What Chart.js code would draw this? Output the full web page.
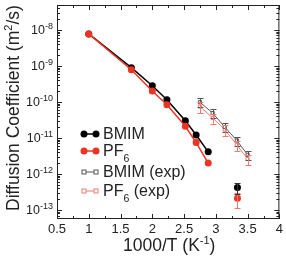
<!DOCTYPE html>
<html>
<head>
<meta charset="utf-8">
<script src="https://cdn.jsdelivr.net/npm/chart.js@4.4.1/dist/chart.umd.min.js"></script>
<style>
html, body { margin: 0; padding: 0; background: #fff; }
#wrap { width: 286px; height: 262px; }
</style>
</head>
<body>
<div id="wrap"><canvas id="chart"></canvas></div>
<script>
// simulation points, 1000/T
const simX = [1.0, 1.67, 2.0, 2.23, 2.52, 2.69, 2.88];
const bmimSim = [7.7e-9, 8.9e-10, 2.8e-10, 1.15e-10, 3.0e-11, 1.2e-11, 4.1e-12];
const pf6Sim = [7.7e-9, 7.8e-10, 2.0e-10, 8.3e-11, 2.1e-11, 7.4e-12, 2.0e-12];

// room temperature simulation (with error bars, not joined)
const roomX = [3.34];
const bmimRoom = [4.2e-13];
const pf6Room = [2.1e-13];
const bmimRoomErr = [0.35];
const pf6RoomErr = [0.45];

// experiment
const expX = [2.75, 2.95, 3.14, 3.33, 3.5];
const bmimExp = [9.8e-11, 4.9e-11, 2.0e-11, 8.5e-12, 3.4e-12];
const pf6Exp = [7.4e-11, 3.6e-11, 1.7e-11, 6.4e-12, 2.6e-12];
const bmimExpErr = [0.28, 0.28, 0.28, 0.28, 0.28];
const pf6ExpErr = [0.32, 0.32, 0.32, 0.32, 0.32];

const xTicks = [0.5, 1, 1.5, 2, 2.5, 3, 3.5, 4];
const yDecades = [-13, -12, -11, -10, -9, -8];

const FONT = '"Liberation Sans", Arial, Helvetica, sans-serif';
const BLACK = '#000000';
const RED = '#ee3322';
const EXP_BLACK = '#555555';
const EXP_RED = '#f07a70';

function pts(xs, ys) {
    return xs.map((x, i) => ({ x, y: ys[i] }));
}

const errorBars = {
    id: 'errorBars',
    afterDatasetsDraw(chart) {
        const ctx = chart.ctx;
        const ys = chart.scales.y;
        chart.data.datasets.forEach((ds, i) => {
            if (!ds.errors) return;
            const meta = chart.getDatasetMeta(i);
            ctx.save();
            ctx.strokeStyle = ds.errorColor;
            ctx.lineWidth = 1;
            meta.data.forEach((el, j) => {
                const v = ds.data[j].y;
                const e = ds.errors[j];
                const top = Math.round(ys.getPixelForValue(v * (1 + e))) + 0.5;
                const bot = Math.round(ys.getPixelForValue(v * (1 - e))) + 0.5;
                const px = Math.round(el.x) + 0.5;
                ctx.beginPath();
                ctx.moveTo(px, top);
                ctx.lineTo(px, bot);
                ctx.moveTo(px - 3, top);
                ctx.lineTo(px + 3, top);
                ctx.moveTo(px - 3, bot);
                ctx.lineTo(px + 3, bot);
                ctx.stroke();
            });
            ctx.restore();
        });
    },
};

// text with a raised or lowered smaller part
function drawParts(ctx, x, y, parts) {
    let cx = x;
    parts.forEach((p) => {
        ctx.font = `${p.size}px ${FONT}`;
        ctx.fillText(p.t, cx, y + (p.dy || 0));
        cx += ctx.measureText(p.t).width;
    });
    return cx;
}

function partsWidth(ctx, parts) {
    let w = 0;
    parts.forEach((p) => {
        ctx.font = `${p.size}px ${FONT}`;
        w += ctx.measureText(p.t).width;
    });
    return w;
}

const legendRows = [
    { parts: [{ t: 'BMIM', size: 16 }], color: BLACK, exp: false, y: 134 },
    { parts: [{ t: 'PF', size: 16 }, { t: '6', size: 10.5, dy: 6.5 }], color: RED, exp: false, y: 151 },
    { parts: [{ t: 'BMIM (exp)', size: 16 }], color: EXP_BLACK, exp: true, y: 172 },
    { parts: [{ t: 'PF', size: 16 }, { t: '6', size: 10.5, dy: 6.5 }, { t: ' (exp)', size: 16 }], color: EXP_RED, exp: true, y: 191 },
];

const frame = {
    id: 'frame',
    afterDraw(chart) {
        const { ctx, chartArea: a, scales } = chart;
        const xs = scales.x;
        const ys = scales.y;
        ctx.save();
        ctx.strokeStyle = '#222';
        ctx.lineWidth = 1;
        ctx.strokeRect(a.left + 0.5, a.top + 0.5, a.right - a.left - 1, a.bottom - a.top - 1);

        // inward ticks, all four sides
        ctx.beginPath();
        for (let i = 2; i <= 16; i++) {
            const v = i / 4;
            const len = i % 2 === 0 ? 5 : 3;
            const px = Math.round(xs.getPixelForValue(v)) + 0.5;
            ctx.moveTo(px, a.bottom);
            ctx.lineTo(px, a.bottom - len);
            ctx.moveTo(px, a.top);
            ctx.lineTo(px, a.top + len);
        }
        for (let e = -14; e <= -8; e++) {
            for (let m = 1; m <= 9; m++) {
                const v = m * Math.pow(10, e);
                if (v < ys.min || v > ys.max) continue;
                const len = m === 1 ? 5 : 3;
                const py = Math.round(ys.getPixelForValue(v)) + 0.5;
                ctx.moveTo(a.left, py);
                ctx.lineTo(a.left + len, py);
                ctx.moveTo(a.right, py);
                ctx.lineTo(a.right - len, py);
            }
        }
        ctx.stroke();

        // y tick labels 10^n
        ctx.fillStyle = '#222';
        ctx.textBaseline = 'alphabetic';
        ctx.textAlign = 'left';
        yDecades.forEach((e) => {
            const py = ys.getPixelForValue(Math.pow(10, e));
            const parts = [{ t: '10', size: 12.5 }, { t: String(e), size: 9, dy: -5.5 }];
            const w = partsWidth(ctx, parts);
            drawParts(ctx, a.left - 4 - w, py + 4.5, parts);
        });

        // x title
        const xt = [{ t: '1000/T (K', size: 17.5 }, { t: '-1', size: 11, dy: -7 }, { t: ')', size: 17.5 }];
        const xw = partsWidth(ctx, xt);
        drawParts(ctx, (a.left + a.right) / 2 - xw / 2 + 1, 251, xt);

        // y title
        const yt = [{ t: 'Diffusion Coefficient (m', size: 17.5 }, { t: '2', size: 11, dy: -7 }, { t: '/s)', size: 17.5 }];
        ctx.save();
        ctx.translate(18.5, 211);
        ctx.rotate(-Math.PI / 2);
        drawParts(ctx, 0, 0, yt);
        ctx.restore();

        // legend
        legendRows.forEach((r) => {
            ctx.strokeStyle = r.color;
            ctx.lineWidth = r.exp ? 1 : 1.5;
            ctx.beginPath();
            ctx.moveTo(84, r.y);
            ctx.lineTo(96, r.y);
            ctx.stroke();
            [84, 96].forEach((mx) => {
                if (r.exp) {
                    ctx.fillStyle = '#fff';
                    ctx.lineWidth = 1;
                    ctx.fillRect(mx - 2, r.y - 2, 4, 4);
                    ctx.strokeRect(mx - 2, r.y - 2, 4, 4);
                } else {
                    ctx.fillStyle = r.color;
                    ctx.beginPath();
                    ctx.arc(mx, r.y, 3.5, 0, Math.PI * 2);
                    ctx.fill();
                }
            });
            ctx.fillStyle = '#222';
            drawParts(ctx, 103, r.y + 4.5, r.parts);
        });
        ctx.restore();
    },
};

new Chart(document.getElementById('chart'), {
    type: 'line',
    data: {
        datasets: [
            {
                label: 'PF6',
                data: pts(simX, pf6Sim),
                borderColor: RED,
                backgroundColor: RED,
                borderWidth: 1.5,
                pointRadius: 3.5,
                pointBorderWidth: 0,
            },
            {
                label: 'BMIM',
                data: pts(simX, bmimSim),
                borderColor: BLACK,
                backgroundColor: BLACK,
                borderWidth: 1.5,
                pointRadius: 3.5,
                pointBorderWidth: 0,
            },
            {
                label: 'PF6 298K',
                data: pts(roomX, pf6Room),
                showLine: false,
                backgroundColor: RED,
                borderColor: RED,
                pointRadius: 3.5,
                pointBorderWidth: 0,
                errors: pf6RoomErr,
                errorColor: EXP_RED,
            },
            {
                label: 'BMIM 298K',
                data: pts(roomX, bmimRoom),
                showLine: false,
                backgroundColor: BLACK,
                borderColor: BLACK,
                pointRadius: 3.5,
                pointBorderWidth: 0,
                errors: bmimRoomErr,
                errorColor: '#333333',
            },
            {
                label: 'BMIM (exp)',
                data: pts(expX, bmimExp),
                borderColor: EXP_BLACK,
                backgroundColor: '#fff',
                borderWidth: 1,
                pointStyle: 'rect',
                pointRadius: 2.2,
                pointBorderWidth: 1,
                errors: bmimExpErr,
                errorColor: EXP_BLACK,
            },
            {
                label: 'PF6 (exp)',
                data: pts(expX, pf6Exp),
                borderColor: EXP_RED,
                backgroundColor: '#fff',
                borderWidth: 1,
                pointStyle: 'rect',
                pointRadius: 2.2,
                pointBorderWidth: 1,
                errors: pf6ExpErr,
                errorColor: EXP_RED,
            },
        ],
    },
    options: {
        responsive: true,
        maintainAspectRatio: false,
        animation: false,
        layout: { padding: { top: 5, right: 4, left: 0, bottom: 0 } },
        plugins: { legend: { display: false }, tooltip: { enabled: false } },
        scales: {
            x: {
                type: 'linear',
                min: 0.5,
                max: 4,
                grid: { display: false, drawTicks: false, tickLength: 0 },
                border: { display: false },
                afterBuildTicks: (s) => { s.ticks = xTicks.map((v) => ({ value: v })); },
                ticks: {
                    padding: 3,
                    color: '#222',
                    font: { family: FONT, size: 13 },
                    maxRotation: 0,
                    autoSkip: false,
                    callback: (v) => String(v),
                },
                afterFit: (s) => { s.height = 43; },
            },
            y: {
                type: 'logarithmic',
                min: 5.6e-14,
                max: 4.9e-8,
                grid: { display: false, drawTicks: false },
                border: { display: false },
                ticks: { display: false },
                afterFit: (s) => { s.width = 57; },
            },
        },
    },
    plugins: [errorBars, frame],
});
</script>
</body>
</html>
